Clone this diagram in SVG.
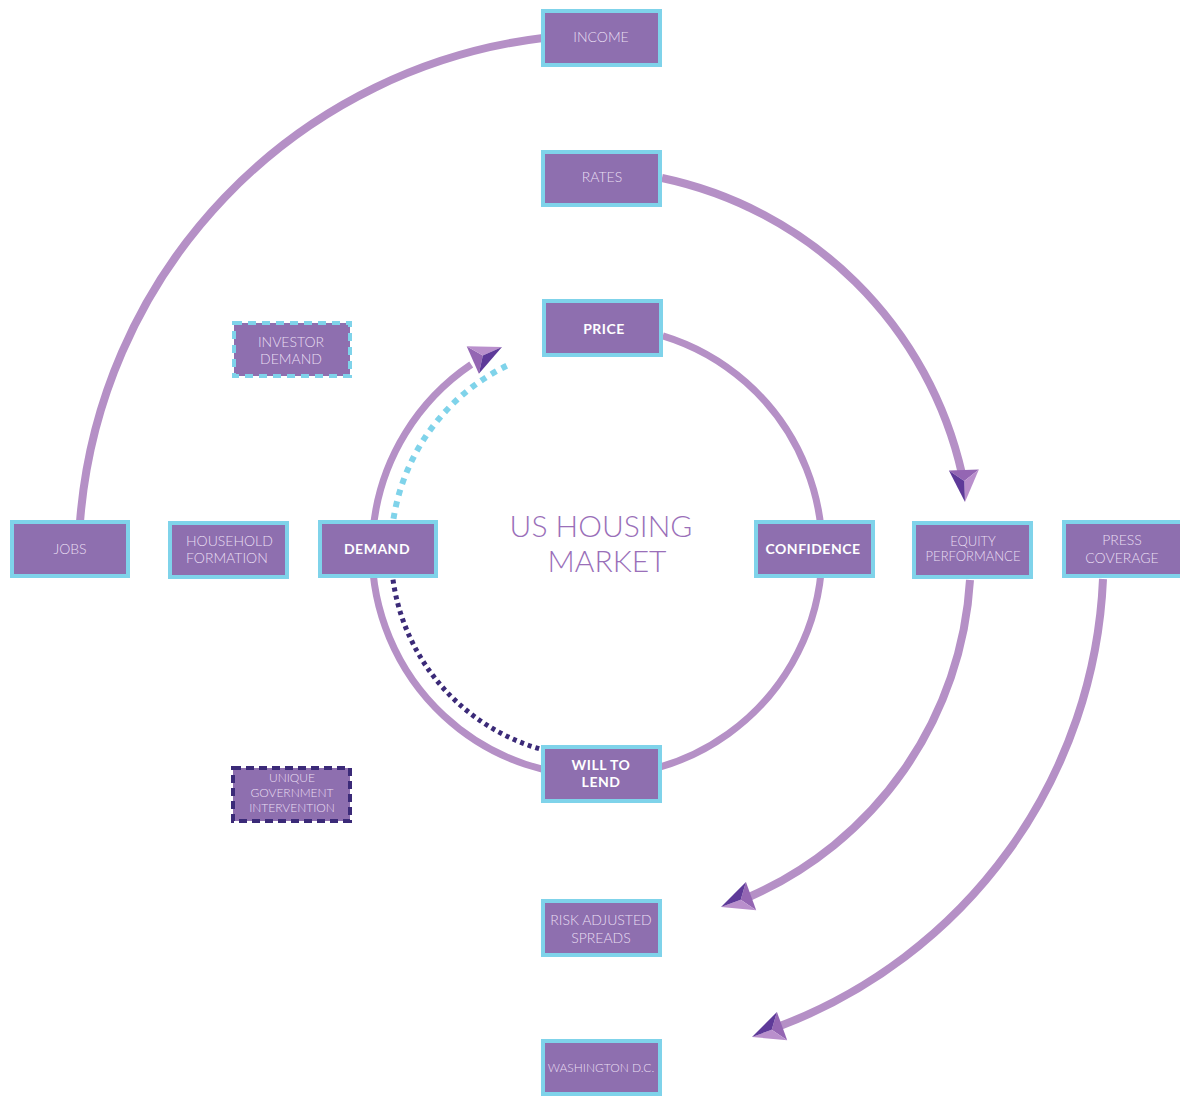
<svg xmlns="http://www.w3.org/2000/svg" xmlns:xlink="http://www.w3.org/1999/xlink" width="1180" height="1096" viewBox="0 0 1180 1096">
<style>
.bg{fill:#ffffff}
.node{fill:#8e6faf;stroke:#7fd3ea;stroke-width:4}
.dcyan{fill:#8e6faf;stroke:#7fd3ea;stroke-width:4;stroke-dasharray:8 6}
.ddark{fill:#8e6faf;stroke:#3b2a78;stroke-width:4;stroke-dasharray:8 5}
.lbl{font-family:Lato,'Open Sans','Liberation Sans',sans-serif;font-weight:300;fill:#e9def2;text-anchor:middle;font-size:14px}
.sm{font-size:13px}
.xs{font-size:12px}
.bold{font-weight:700;fill:#ffffff;font-size:14px;letter-spacing:0.5px}
.title{font-family:Lato,'Open Sans','Liberation Sans',sans-serif;font-weight:300;fill:#9a6fb9;font-size:30px;text-anchor:middle}
.arc{fill:none;stroke:#b590c6;stroke-width:8}
.ring{fill:none;stroke:#b590c6;stroke-width:7}
.dotc{fill:none;stroke:#7fd3ea;stroke-width:6;stroke-dasharray:6 6}
.dotd{fill:none;stroke:#3b2a78;stroke-width:5;stroke-dasharray:4 4}
</style>
<defs>
<g id="ah">
<polygon points="-32,-15 -32,15 -21,0" fill="#9466b3"/>
<polygon points="-32,-15 -21,0 0,0" fill="#b98fcc"/>
<polygon points="-32,15 -21,0 0,0" fill="#5e3a99"/>
</g>
</defs>
<rect class="bg" x="0" y="0" width="1180" height="1096"/>
<g id="connectors">
<path class="arc" d="M80,522 A528,528 0 0 1 543,38"/>
<path class="arc" d="M662,178 A390,390 0 0 1 962,474"/>
<use xlink:href="#ah" href="#ah" transform="translate(965,502) rotate(88)"/>
<path class="ring" d="M662.8,335.8 A225,225 0 1 1 471.2,364.5"/>
<use xlink:href="#ah" href="#ah" transform="translate(502,347) rotate(-24)"/>
<path class="dotc" d="M393.5,518.8 A206,206 0 0 1 506.7,365.8"/>
<path class="dotd" d="M393,579.7 A206,206 0 0 0 540.2,749"/>
<path class="arc" d="M970,580 A370,370 0 0 1 749,897"/>
<use xlink:href="#ah" href="#ah" transform="translate(721,907) rotate(160)"/>
<path class="arc" d="M1103,579 A501,501 0 0 1 780,1026"/>
<use xlink:href="#ah" href="#ah" transform="translate(752,1037) rotate(160)"/>
</g>
<g id="center-label">
<text class="title" x="601" y="537">US HOUSING</text>
<text class="title" x="607" y="572">MARKET</text>
</g>
<g id="income"><rect class="node" x="543" y="11" width="117" height="54"/><text class="lbl" x="601" y="42">INCOME</text></g>
<g id="rates"><rect class="node" x="543" y="152" width="117" height="53"/><text class="lbl" x="602" y="182">RATES</text></g>
<g id="price"><rect class="node" x="544" y="301" width="117" height="54"/><text class="lbl bold" x="604" y="334">PRICE</text></g>
<g id="investor-demand"><rect class="dcyan" x="234" y="323" width="116" height="53"/><text class="lbl" x="291" y="347">INVESTOR</text><text class="lbl" x="291" y="364">DEMAND</text></g>
<g id="jobs"><rect class="node" x="12" y="522" width="116" height="54"/><text class="lbl" x="70" y="554">JOBS</text></g>
<g id="household-formation"><rect class="node" x="170" y="523" width="117" height="54"/><text class="lbl" x="186" y="546" style="text-anchor:start">HOUSEHOLD</text><text class="lbl" x="186" y="563" style="text-anchor:start">FORMATION</text></g>
<g id="demand"><rect class="node" x="320" y="522" width="116" height="54"/><text class="lbl bold" x="377" y="554">DEMAND</text></g>
<g id="confidence"><rect class="node" x="756" y="522" width="117" height="54"/><text class="lbl bold" x="813" y="554">CONFIDENCE</text></g>
<g id="equity-performance"><rect class="node" x="914" y="523" width="117" height="54"/><text class="lbl sm" x="973" y="546">EQUITY</text><text class="lbl sm" x="973" y="561">PERFORMANCE</text></g>
<g id="press-coverage"><rect class="node" x="1064" y="522" width="118" height="54"/><text class="lbl" x="1122" y="545">PRESS</text><text class="lbl" x="1122" y="563">COVERAGE</text></g>
<g id="will-to-lend"><rect class="node" x="543" y="747" width="117" height="54"/><text class="lbl bold" x="601" y="770">WILL TO</text><text class="lbl bold" x="601" y="787">LEND</text></g>
<g id="unique-government-intervention"><rect class="ddark" x="233" y="768" width="117" height="53"/><text class="lbl xs" x="292" y="782">UNIQUE</text><text class="lbl xs" x="292" y="797">GOVERNMENT</text><text class="lbl xs" x="292" y="812">INTERVENTION</text></g>
<g id="risk-adjusted-spreads"><rect class="node" x="543" y="901" width="117" height="54"/><text class="lbl" x="601" y="925">RISK ADJUSTED</text><text class="lbl" x="601" y="943">SPREADS</text></g>
<g id="washington-dc"><rect class="node" x="543" y="1041" width="117" height="53"/><text class="lbl xs" x="601" y="1072">WASHINGTON D.C.</text></g>
</svg>
